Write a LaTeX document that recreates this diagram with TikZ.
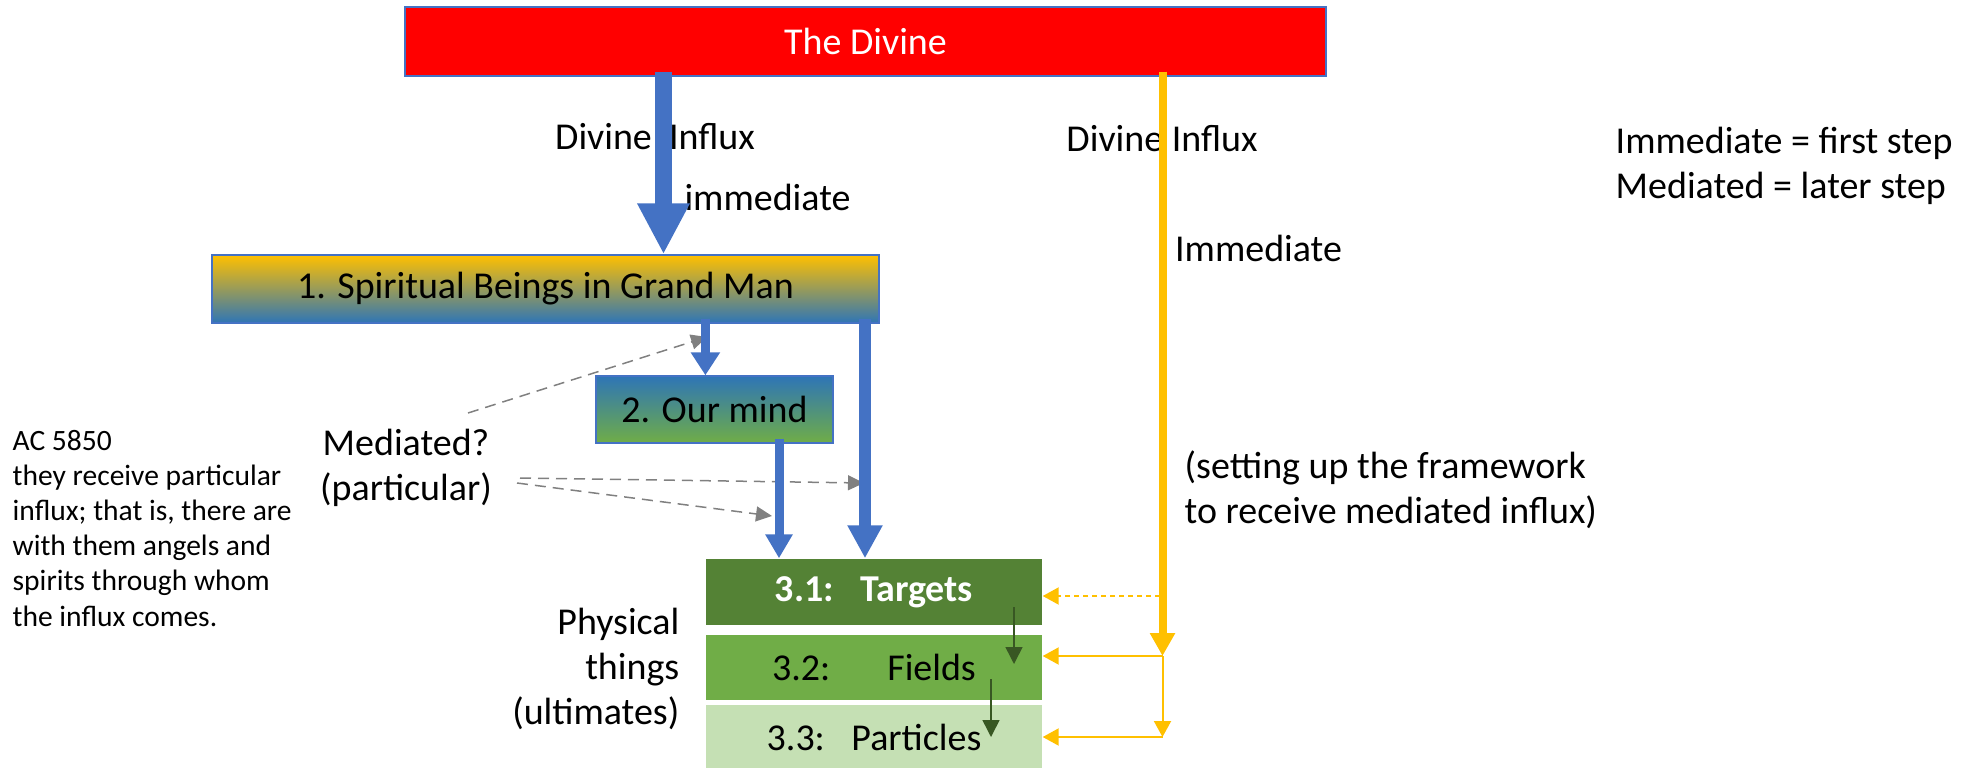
\documentclass[tikz,border=0pt]{standalone}
\usepackage{fontspec}
\setmainfont{Carlito}
\usepackage{tikz}
\usetikzlibrary{arrows,arrows.meta}
\usetikzlibrary{calc, positioning}

\definecolor{divinered}{HTML}{FF0000}
\definecolor{linkblue}{HTML}{4472C4}
\definecolor{gold}{HTML}{FFC000}
\definecolor{deepblue}{HTML}{2E75B6}
\definecolor{grgreen}{HTML}{70AD47}
\definecolor{dkgreen}{HTML}{548235}
\definecolor{ltgreen}{HTML}{C5E0B4}
\definecolor{arrgreen}{HTML}{385723}

\newcommand{\diagfont}{\fontsize{10.8}{12.8}\selectfont}
\newcommand{\notefont}{\fontsize{8.4}{10}\selectfont}

\tikzset{
    blueflow/.style args={#1 #2 #3}{
        draw=linkblue, line width=#1, shorten <=-0.5mm,
        -{Triangle[width=#2, length=#3]}
    },
    blueflow/.default={1.2mm 3.3mm 3.3mm}
}
\tikzset{
    goldflow/.style args={#1 #2 #3}{
        draw=gold, line width=#1,
        -{Triangle[width=#2, length=#3]}
    },
    goldflow/.default={0.2mm 1.7mm 1.6mm},
    greyflow/.style={draw=gray, line width=0.15mm, dash pattern=on 1.1mm off 0.7mm,
        -{Triangle[width=1.5mm, length=1.6mm]}},
    greenflow/.style={draw=arrgreen, line width=0.15mm,
        -{Triangle[width=1.7mm, length=1.7mm]}},
    layer/.style={minimum width=3.36cm, minimum height=#1}
}

\begin{document}
\begin{tikzpicture}
    \tikzstyle{every node}=[inner sep=0pt, font=\diagfont];
    \useasboundingbox (0,0) rectangle (19.77,-7.68);

    \node (inflA) at (6.55,-1.37) {Divine\ \ Influx};
    \node (immA) at (7.675,-1.97) {immediate};
    \node (inflB) at (11.62,-1.39) {Divine Influx};
    \node (immB) at (12.585,-2.48) {Immediate};
    \node[anchor=west, align=left] (legend) at (16.15,-1.655) {Immediate = first step\\Mediated = later step};
    \node[anchor=west, align=left] (frame) at (11.84,-4.895) {(setting up the framework\\to receive mediated influx)};
    \node[align=center] (medq) at (4.06,-4.675) {Mediated?\\(particular)};
    \node[anchor=east, align=right] (phys) at (6.80,-6.69) {Physical\\things\\(ultimates)};
    \node[anchor=north west, align=left, font=\notefont] (note) at (0.12,-4.295) {AC 5850\\they receive particular\\influx; that is, there are\\with them angels and\\spirits through whom\\the influx comes.};

    \node[draw=linkblue, fill=divinered, text=white, minimum width=9.21cm, minimum height=0.69cm] (divine) at (8.655,-0.415) {The Divine};
    \node[draw=linkblue, top color=gold, bottom color=deepblue, minimum width=6.67cm, minimum height=0.68cm] (beings) at (5.455,-2.89) {1. Spiritual Beings in Grand Man};
    \node[draw=linkblue, top color=deepblue, bottom color=grgreen, minimum width=2.37cm, minimum height=0.67cm] (mind) at (7.145,-4.095) {2. Our mind};
    \node[layer=0.66cm, fill=dkgreen, text=white, font=\diagfont\bfseries] (targets) at (8.74,-5.92) {3.1:\hspace{0.7em}Targets};
    \node[layer=0.65cm, fill=grgreen, below=0.09cm of targets] (fields) {3.2:\hspace{1.5em}Fields};
    \node[layer=0.66cm, fill=ltgreen, below=0.03cm of fields] (particles) {3.3:\hspace{0.7em}Particles};

    \coordinate (colA) at (6.635,0);
    \coordinate (colB) at (7.054,0);
    \coordinate (colC) at (7.79,0);
    \coordinate (colD) at (8.65,0);
    \coordinate (colE) at (11.625,0);
    \coordinate (j1) at (11.625,-6.56);
    \coordinate (j2) at (11.625,-7.37);
    \coordinate (d1) at (11.6,-5.96);
    \coordinate (g1) at (10.14,-6.07);
    \coordinate (g2) at (10.14,-6.64);
    \coordinate (g3) at (9.91,-6.79);
    \coordinate (g4) at (9.91,-7.37);
    \coordinate (m1) at (4.68,-4.13);
    \coordinate (t1) at (7.07,-3.37);
    \coordinate (m2) at (5.20,-4.78);
    \coordinate (t2) at (8.64,-4.83);
    \coordinate (m3) at (5.17,-4.83);
    \coordinate (t3) at (7.72,-5.16);

    \draw[greyflow] (m1) -- (t1);
    \draw[greyflow] (m2) -- (t2);
    \draw[greyflow] (m3) -- (t3);

    \draw[blueflow={1.7mm 4.9mm 5.1mm}] (divine.south -| colA) -- (beings.north -| colA);
    \draw[blueflow={0.9mm 2.8mm 2.3mm}] (beings.south -| colB) -- (mind.north -| colB);
    \draw[blueflow={0.9mm 2.6mm 2.4mm}] (mind.south -| colC) -- (targets.north -| colC);
    \draw[blueflow] (beings.south -| colD) -- (targets.north -| colD);

    \draw[goldflow={0.8mm 2.4mm 2.3mm}, shorten <=-0.5mm] (divine.south -| colE) -- (j1);
    \draw[goldflow, dash pattern=on 0.5mm off 0.4mm] (d1) -- (d1 -| targets.east);
    \draw[goldflow] (j1) -- (j1 -| fields.east);
    \draw[goldflow] (j1) -- (j2);
    \draw[goldflow] (j2) -- (j2 -| particles.east);

    \draw[greenflow] (g1) -- (g2);
    \draw[greenflow] (g3) -- (g4);
\end{tikzpicture}
\end{document}
